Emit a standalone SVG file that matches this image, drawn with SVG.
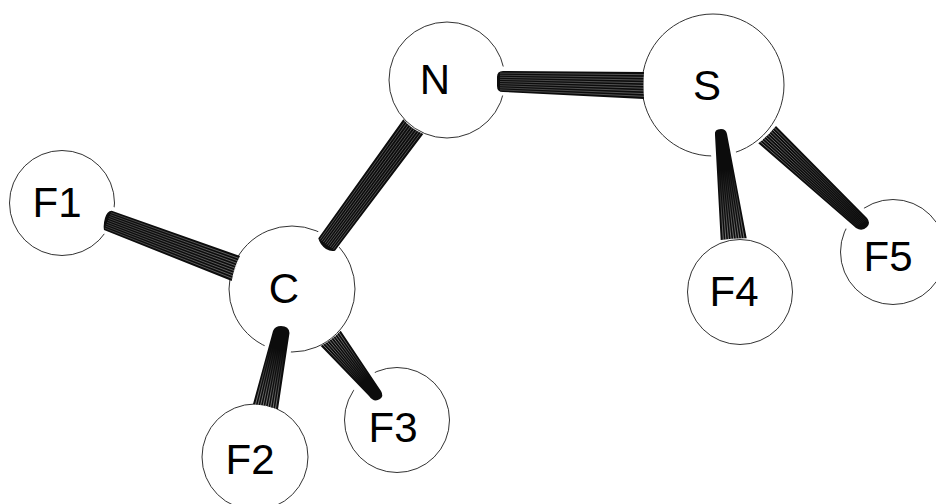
<svg xmlns="http://www.w3.org/2000/svg" width="936" height="504" viewBox="0 0 936 504">
<style>
.atom{fill:#fff;stroke:#333;stroke-width:1}
.lab{font-family:"Liberation Sans",Arial,sans-serif;font-size:42px;fill:#000;text-anchor:middle}
.halo{stroke:#fff;fill:none;stroke-linecap:round}
.bond{fill:#0c0c0c}
.hatch{fill:none;stroke-width:.7}
</style>
<defs>
<linearGradient id="gNS" gradientUnits="userSpaceOnUse" x1="500" y1="80" x2="644" y2="85"><stop offset="0" stop-color="#999" stop-opacity=".55"/><stop offset="1" stop-color="#aaa" stop-opacity=".7"/></linearGradient>
<linearGradient id="gF1" gradientUnits="userSpaceOnUse" x1="108" y1="220" x2="236" y2="268"><stop offset="0" stop-color="#aaa" stop-opacity=".45"/><stop offset="1" stop-color="#bbb" stop-opacity=".7"/></linearGradient>
<linearGradient id="gCN" gradientUnits="userSpaceOnUse" x1="326" y1="244" x2="413" y2="126"><stop offset="0" stop-color="#aaa" stop-opacity=".6"/><stop offset="1" stop-color="#aaa" stop-opacity=".6"/></linearGradient>
<linearGradient id="gF2" gradientUnits="userSpaceOnUse" x1="281" y1="350" x2="265" y2="406"><stop offset="0" stop-color="#ccc" stop-opacity="0"/><stop offset="1" stop-color="#ccc" stop-opacity=".8"/></linearGradient>
<linearGradient id="gF3" gradientUnits="userSpaceOnUse" x1="365" y1="380" x2="330" y2="338"><stop offset="0" stop-color="#ccc" stop-opacity="0"/><stop offset="1" stop-color="#ccc" stop-opacity=".85"/></linearGradient>
<linearGradient id="gF4" gradientUnits="userSpaceOnUse" x1="724" y1="170" x2="733" y2="240"><stop offset="0" stop-color="#ccc" stop-opacity="0"/><stop offset="1" stop-color="#ccc" stop-opacity=".8"/></linearGradient>
<linearGradient id="gF5" gradientUnits="userSpaceOnUse" x1="855" y1="218" x2="767" y2="135"><stop offset="0" stop-color="#aaa" stop-opacity=".1"/><stop offset="1" stop-color="#ccc" stop-opacity=".75"/></linearGradient>
</defs>
<g id="node-N"><circle class="atom" cx="447" cy="80" r="58"/><text class="lab" x="435" y="94">N</text></g>
<g id="node-S"><circle class="atom" cx="713" cy="85" r="71"/><text class="lab" x="707" y="100">S</text></g>
<g id="node-C"><circle class="atom" cx="292" cy="289" r="63"/><text class="lab" x="284" y="303">C</text></g>
<g id="node-F1"><circle class="atom" cx="62" cy="203" r="52.500"/><text class="lab" x="57" y="217">F1</text></g>
<g id="node-F2"><circle class="atom" cx="255" cy="457" r="53"/><text class="lab" x="250" y="474">F2</text></g>
<g id="node-F3"><circle class="atom" cx="397" cy="420" r="52.500"/><text class="lab" x="393" y="442">F3</text></g>
<g id="node-F4"><circle class="atom" cx="740" cy="292" r="52.500"/><text class="lab" x="734" y="306">F4</text></g>
<g id="node-F5"><circle class="atom" cx="893" cy="252" r="52.500"/><text class="lab" x="888" y="271">F5</text></g>
<g id="connectors">
<path class="halo" stroke-width="29" d="M500 81L515 81"/>
<path class="bond" d="M503 71L644 72Q643 85 644 99L503 92Q497 92 497 86V77Q497 71 503 71Z"/>
<path class="hatch" stroke="url(#gNS)" d="M500 73.100L644 74.700M500 75.200L644 77.400M500 77.300L644 80.100M500 79.400L644 82.800M500 81.500L644 85.500M500 83.600L644 88.200M500 85.700L644 90.900M500 87.800L644 93.600M500 89.900L644 96.300"/>
<path class="halo" stroke-width="28" d="M108 220L122 225"/>
<path class="bond" d="M111.700 210.700L240 256Q234 267 231.700 281L104 230Q103 225 105 218Q107 211 111.700 210.700Z"/>
<path class="hatch" stroke="url(#gF1)" d="M110.900 212.600L239.200 258.500M110.200 214.600L238.300 261M109.400 216.500L237.500 263.500M108.600 218.400L236.700 266M107.900 220.400L235.900 268.500M107.100 222.300L235 271M106.300 224.200L234.200 273.500M105.500 226.100L233.400 276M104.800 228.100L232.500 278.500"/>
<path class="halo" stroke-width="26" d="M326 243L338 227"/>
<path class="bond" d="M318.300 238.300L403.300 119.300Q411 129 423.300 134L335 250.700Q331 252 326 249Q320 245 318.300 238.300Z"/>
<path class="hatch" stroke="url(#gCN)" d="M320 239.500L405.300 120.800M321.600 240.800L407.300 122.200M323.300 242L409.300 123.700M325 243.300L411.300 125.200M326.700 244.500L413.300 126.700M328.300 245.700L415.300 128.100M330 247L417.300 129.600M331.700 248.200L419.300 131.100M333.300 249.500L421.300 132.500"/>
<path class="halo" stroke-width="27" d="M280 338L275 362"/>
<path class="bond" d="M273 331Q275 326 281 326Q289 326 289.500 333L278 409.300Q265 405 253 404Z"/>
<path class="hatch" stroke="url(#gF2)" d="M274.600 330L255.500 404.500M276.200 330L258 405M277.800 330L260.500 405.600M279.400 330L263 406M281 330L265.500 406.600M282.600 330L268 407.200M284.200 330L270.500 407.700M285.800 330L273 408.200M287.400 330L275.500 408.800"/>
<path class="halo" stroke-width="27" d="M373 392L358 373"/>
<path class="bond" d="M320.700 346Q332 340 340.700 330.700L381 391Q384 396 380 399Q374 403 369 396L320.700 346Z"/>
<path class="hatch" stroke="url(#gF3)" d="M366.700 390.300L322.700 344.500M368.300 390.600L324.700 342.900M370 390.900L326.700 341.400M371.700 391.200L328.700 339.900M373.400 391.500L330.700 338.400M375 391.800L332.700 336.800M376.700 392.100L334.700 335.300M378.400 392.400L336.700 333.800M380 392.700L338.700 332.200"/>
<path class="halo" stroke-width="25" d="M721 135L725 165"/>
<path class="bond" d="M715 135Q714 129 721 129Q726 129 727 134L746.700 238.300Q733 238 720.700 240Z"/>
<path class="hatch" stroke="url(#gF4)" d="M716.200 133L723.300 239.800M717.300 133L725.900 239.700M718.500 133L728.500 239.500M719.700 133L731.100 239.300M720.900 133L733.700 239.200M722 133L736.300 239M723.200 133L738.900 238.800M724.400 133L741.500 238.600M725.500 133L744.100 238.500"/>
<path class="halo" stroke-width="27" d="M861 224L845 209"/>
<path class="bond" d="M758.300 143.300Q768 136 776 126L867 218Q871 223 867 227Q862 232 856 228Z"/>
<path class="hatch" stroke="url(#gF5)" d="M856.300 226L760.100 141.600M857.600 225.400L761.800 139.800M858.900 224.700L763.600 138.100M860.200 224L765.400 136.400M861.500 223.400L767.200 134.700M862.800 222.700L768.900 132.900M864.100 222L770.700 131.200M865.400 221.400L772.500 129.500M866.700 220.700L774.200 127.700"/>
</g>
</svg>
